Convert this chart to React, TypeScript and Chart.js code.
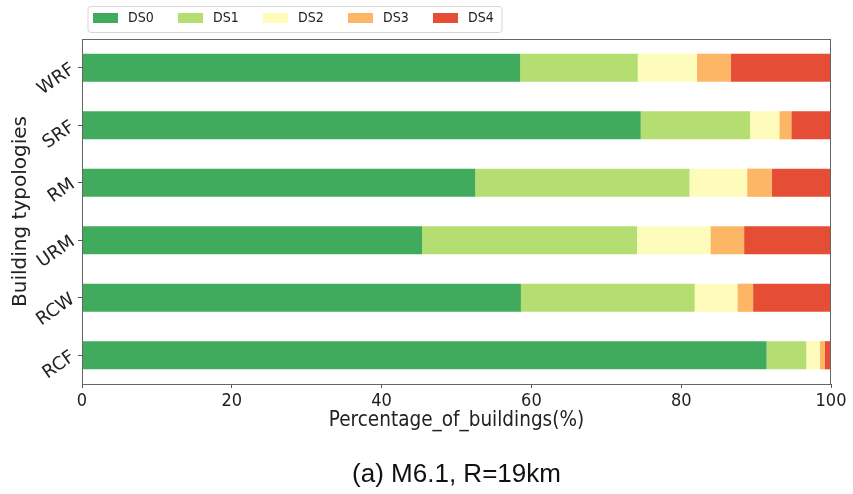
import React, { useEffect, useRef } from 'react';
import { Chart, registerables } from 'chart.js';

Chart.register(...registerables);

// Building typologies, top to bottom
const typologies = ['WRF', 'SRF', 'RM', 'URM', 'RCW', 'RCF'];

// Share of buildings (%) in each damage state
const ds0 = [58.5, 74.6, 52.5, 45.4, 58.6, 91.4];
const ds1 = [15.7, 14.6, 28.6, 28.7, 23.2, 5.3];
const ds2 = [7.9, 3.9, 7.7, 9.8, 5.7, 1.8];
const ds3 = [4.5, 1.6, 3.3, 4.5, 2.1, 0.7];
const ds4 = [13.4, 5.3, 7.9, 11.6, 10.4, 0.8];

const stateLabels = ['DS0', 'DS1', 'DS2', 'DS3', 'DS4'];
const stateColors = ['#41ab5d', '#b4de72', '#fefcbb', '#fdb666', '#e54e35'];

const xTicks = [0, 20, 40, 60, 80, 100];

const xTitle = 'Percentage_of_buildings(%)';
const yTitle = 'Building typologies';
const caption = '(a) M6.1, R=19km';

const CONDENSED = '"DejaVu Sans Condensed", "DejaVu Sans", sans-serif';
const SANS = '"DejaVu Sans", sans-serif';

// Frame around the plot area (all four spines)
const framePlugin = {
  id: 'frame',
  afterDatasetsDraw(chart: any) {
    const { ctx, chartArea: a } = chart;
    ctx.save();
    ctx.strokeStyle = '#666';
    ctx.lineWidth = 1;
    ctx.strokeRect(Math.round(a.left) + 0.5, Math.round(a.top) + 0.5, Math.round(a.right - a.left) - 1, Math.round(a.bottom - a.top));
    ctx.restore();
  },
};

// Boxed legend above the plot, items laid out in one row
const boxLegendPlugin = {
  id: 'boxLegend',
  afterDraw(chart: any) {
    const { ctx, chartArea: a } = chart;
    const left = a.left + 6;
    const top = 6.5;
    const step = 85;
    const width = step * stateLabels.length - 11;
    const height = 26;
    ctx.save();
    ctx.beginPath();
    const r = 3;
    ctx.moveTo(left + r, top);
    ctx.lineTo(left + width - r, top);
    ctx.quadraticCurveTo(left + width, top, left + width, top + r);
    ctx.lineTo(left + width, top + height - r);
    ctx.quadraticCurveTo(left + width, top + height, left + width - r, top + height);
    ctx.lineTo(left + r, top + height);
    ctx.quadraticCurveTo(left, top + height, left, top + height - r);
    ctx.lineTo(left, top + r);
    ctx.quadraticCurveTo(left, top, left + r, top);
    ctx.closePath();
    ctx.fillStyle = 'rgba(255,255,255,0.9)';
    ctx.fill();
    ctx.strokeStyle = '#d6d6d6';
    ctx.lineWidth = 1;
    ctx.stroke();

    ctx.font = `14px ${CONDENSED}`;
    ctx.textBaseline = 'middle';
    ctx.textAlign = 'left';
    chart.data.datasets.forEach((ds: any, i: number) => {
      const x = left + 5 + i * step;
      ctx.fillStyle = ds.backgroundColor;
      ctx.fillRect(x, top + 6.5, 25, 10);
      ctx.fillStyle = '#222';
      ctx.fillText(ds.label, x + 35, top + 12);
    });
    ctx.restore();
  },
};

// Figure caption under the axis title
const captionPlugin = {
  id: 'caption',
  afterDraw(chart: any) {
    const { ctx, chartArea: a } = chart;
    ctx.save();
    ctx.font = `26px "Liberation Sans", Arial, sans-serif`;
    ctx.fillStyle = '#111';
    ctx.textAlign = 'center';
    ctx.textBaseline = 'alphabetic';
    ctx.fillText(caption, (a.left + a.right) / 2, a.bottom + 98);
    ctx.restore();
  },
};

export default function App() {
  const canvasRef = useRef<HTMLCanvasElement | null>(null);

  useEffect(() => {
    const canvas = canvasRef.current;
    if (!canvas) return;
    const series = [ds0, ds1, ds2, ds3, ds4];
    const chart = new Chart(canvas, {
      type: 'bar',
      data: {
        labels: typologies,
        datasets: series.map((values, i) => ({
          label: stateLabels[i],
          data: values,
          backgroundColor: stateColors[i],
          borderWidth: 0,
          barPercentage: 0.49,
          categoryPercentage: 1,
        })),
      },
      options: {
        indexAxis: 'y',
        animation: false,
        responsive: false,
        devicePixelRatio: 1,
        layout: { padding: { top: 39, right: 22, bottom: 50, left: 0 } },
        plugins: {
          legend: { display: false },
          tooltip: { enabled: false },
          title: { display: false },
        },
        scales: {
          x: {
            stacked: true,
            min: 0,
            max: 100,
            afterBuildTicks: (scale: any) => {
              scale.ticks = xTicks.map((v) => ({ value: v }));
            },
            afterFit: (scale: any) => {
              scale.height = 60;
            },
            grid: {
              display: true,
              drawOnChartArea: false,
              drawTicks: true,
              tickLength: 4,
              color: '#555',
            },
            border: { display: false },
            ticks: {
              color: '#222',
              padding: 3,
              maxRotation: 0,
              font: { family: CONDENSED, size: 18 },
            },
            title: {
              display: true,
              text: xTitle,
              color: '#222',
              padding: { top: 0, bottom: 11 },
              font: { family: CONDENSED, size: 20.5 },
            },
          },
          y: {
            stacked: true,
            afterFit: (scale: any) => {
              scale.width = 82;
            },
            grid: {
              display: true,
              offset: false,
              drawOnChartArea: false,
              drawTicks: true,
              tickLength: 4,
              color: '#555',
            },
            border: { display: false },
            ticks: {
              color: '#222',
              padding: 5,
              minRotation: 35,
              maxRotation: 35,
              font: { family: SANS, size: 18 },
            },
            title: {
              display: true,
              text: yTitle,
              color: '#222',
              padding: { top: 9, bottom: 0 },
              font: { family: SANS, size: 20 },
            },
          },
        },
      },
      plugins: [framePlugin, boxLegendPlugin, captionPlugin],
    } as any);
    return () => chart.destroy();
  }, []);

  return (
    <div style={{ position: 'fixed', left: 0, top: 0, width: 853, height: 494, background: '#fff' }}>
      <canvas ref={canvasRef} width={853} height={494} style={{ display: 'block' }} />
    </div>
  );
}
